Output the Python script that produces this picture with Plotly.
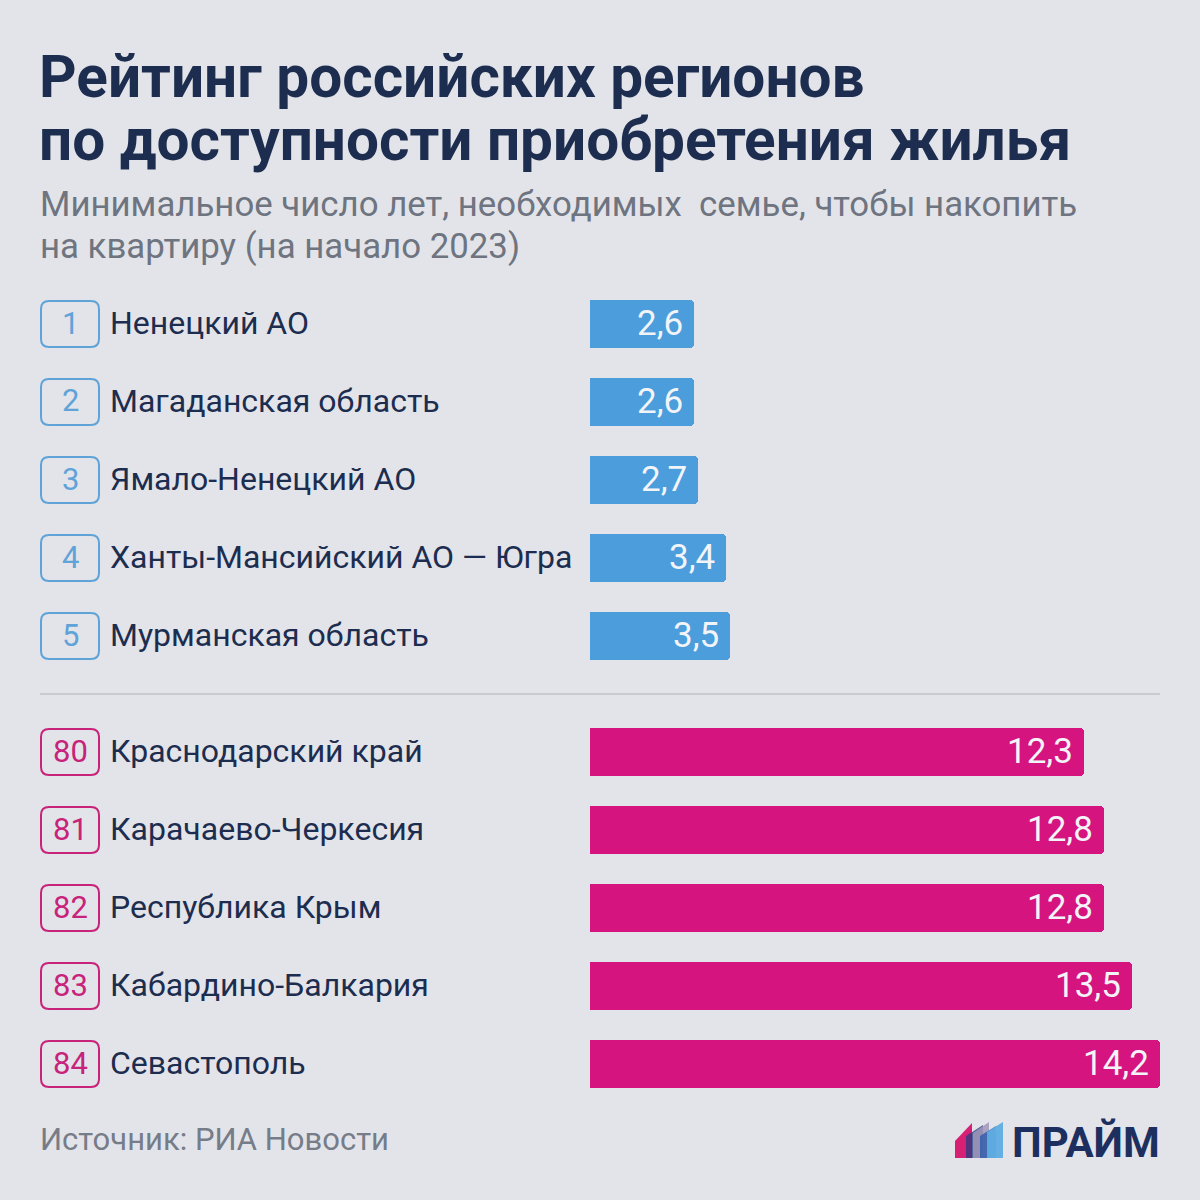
import plotly.graph_objects as go

# ---- data ----
ranks = ["1", "2", "3", "4", "5", "80", "81", "82", "83", "84"]
regions = ["Ненецкий АО", "Магаданская область", "Ямало-Ненецкий АО",
           "Ханты-Мансийский АО — Югра", "Мурманская область",
           "Краснодарский край", "Карачаево-Черкесия", "Республика Крым",
           "Кабардино-Балкария", "Севастополь"]
years = [2.6, 2.6, 2.7, 3.4, 3.5, 12.3, 12.8, 12.8, 13.5, 14.2]
groups = ["top", "top", "top", "top", "top", "bottom", "bottom", "bottom", "bottom", "bottom"]

title_lines = ["Рейтинг российских регионов", "по доступности приобретения жилья"]
subtitle_lines = ["Минимальное число лет, необходимых  семье, чтобы накопить",
                  "на квартиру (на начало 2023)"]
source = "Источник: РИА Новости"
brand = "ПРАЙМ"

# ---- style ----
W = H = 1200
BG = "#e3e4e9"
NAVY = "#1c2d4f"
GREY = "#6e7480"
BLUE = "#4b9ddb"
MAGENTA = "#d5147f"
BOX_BLUE = "#5fa3d8"
BOX_MAG = "#c8237a"
FONT = "Roboto"

ROW0 = 324      # pixel centre of first row
STEP = 78       # pixel step between rows
GAP = 38        # extra pixel gap between groups
BAR_H = 48
BAR_X0, BAR_X1 = 590, 1160

def row_px(i):
    return ROW0 + STEP * i + (GAP if groups[i] == "bottom" else 0)

ypos = [(row_px(i) - ROW0) / STEP for i in range(len(years))]
y_top = -ROW0 / STEP
y_bot = (H - ROW0) / STEP

def X(px):
    return px / W

def Y(py):
    return 1 - py / H

colors = [BLUE if g == "top" else MAGENTA for g in groups]

fig = go.Figure()
fig.add_trace(go.Bar(
    x=years, y=ypos, orientation="h",
    width=BAR_H / STEP,
    marker=dict(color=colors, line=dict(width=0), cornerradius=4),
    hoverinfo="skip",
))

annotations = []
shapes = []

# value labels
for i, v in enumerate(years):
    annotations.append(dict(
        x=v, y=ypos[i], xref="x", yref="y", xanchor="right", yanchor="middle",
        xshift=-9, yshift=1, showarrow=False,
        text=f"{v:.1f}".replace(".", ","),
        font=dict(family=FONT, size=35, color="#f2f4f8"),
    ))

def rrect(x0, y0, x1, y1, r):
    p = lambda x, y: f"{X(x):.5f},{Y(y):.5f}"
    return (f"M {p(x0 + r, y0)} L {p(x1 - r, y0)} Q {p(x1, y0)} {p(x1, y0 + r)} "
            f"L {p(x1, y1 - r)} Q {p(x1, y1)} {p(x1 - r, y1)} "
            f"L {p(x0 + r, y1)} Q {p(x0, y1)} {p(x0, y1 - r)} "
            f"L {p(x0, y0 + r)} Q {p(x0, y0)} {p(x0 + r, y0)} Z")

for i, (rk, name) in enumerate(zip(ranks, regions)):
    cy = row_px(i)
    bc = BOX_BLUE if groups[i] == "top" else BOX_MAG
    shapes.append(dict(type="path", xref="paper", yref="paper",
                       path=rrect(41, cy - 23, 99, cy + 23, 8),
                       line=dict(color=bc, width=2), fillcolor="rgba(0,0,0,0)"))
    annotations.append(dict(
        x=X(70), y=Y(cy), xref="paper", yref="paper", xanchor="center", yanchor="middle",
        yshift=1, showarrow=False, text=rk,
        font=dict(family=FONT, size=31, color=bc),
    ))
    annotations.append(dict(
        x=X(108), y=Y(cy), xref="paper", yref="paper", xanchor="left", yanchor="middle",
        yshift=1, showarrow=False, text=name,
        font=dict(family=FONT, size=32, color=NAVY),
    ))

# separator line
sep = (row_px(4) + row_px(5)) / 2
shapes.append(dict(type="line", xref="paper", yref="paper",
                   x0=X(40), x1=X(1160), y0=Y(sep), y1=Y(sep),
                   line=dict(color="#c9cacf", width=2)))

# title and subtitle
for k, t in enumerate(title_lines):
    annotations.append(dict(
        x=X(37), y=Y(77 + 63 * k), xref="paper", yref="paper", xanchor="left",
        yanchor="middle", showarrow=False, text=f"<b>{t}</b>",
        font=dict(family=FONT, size=58.5, color=NAVY),
    ))
for k, t in enumerate(subtitle_lines):
    annotations.append(dict(
        x=X(38), y=Y(204 + 43 * k), xref="paper", yref="paper", xanchor="left",
        yanchor="middle", showarrow=False, text=t,
        font=dict(family=FONT, size=34.8, color=GREY),
    ))

# source
annotations.append(dict(
    x=X(38), y=Y(1139), xref="paper", yref="paper", xanchor="left", yanchor="middle",
    showarrow=False, text=source, font=dict(family=FONT, size=31, color="#767c88"),
))

# brand logo
stripes = [("rgba(214,20,110,0.95)", 955, 972, 1141, 1123),
           ("rgba(35,60,130,0.75)", 966, 983, 1136, 1125),
           ("rgba(160,150,185,0.85)", 973, 989, 1133, 1122),
           ("rgba(45,90,170,0.8)", 980, 996, 1136, 1126),
           ("rgba(95,172,225,0.95)", 987, 1003, 1132, 1122)]
for col, x0, x1, ytl, ytr in stripes:
    path = (f"M {X(x0):.5f},{Y(1158):.5f} L {X(x1):.5f},{Y(1158):.5f} "
            f"L {X(x1):.5f},{Y(ytr):.5f} L {X(x0):.5f},{Y(ytl):.5f} Z")
    shapes.append(dict(type="path", xref="paper", yref="paper", path=path,
                       line=dict(width=0), fillcolor=col))
annotations.append(dict(
    x=X(1162), y=Y(1142), xref="paper", yref="paper", xanchor="right", yanchor="middle",
    showarrow=False, text=f"<b>{brand}</b>",
    font=dict(family=FONT, size=42, color="#1d2f5e"),
))

fig.update_layout(
    width=W, height=H,
    margin=dict(l=0, r=0, t=0, b=0),
    paper_bgcolor=BG, plot_bgcolor=BG,
    showlegend=False,
    xaxis=dict(domain=[X(BAR_X0), X(BAR_X1)], range=[0, max(years)],
               visible=False, fixedrange=True),
    yaxis=dict(domain=[0, 1], range=[y_bot, y_top], visible=False, fixedrange=True),
    annotations=annotations,
    shapes=shapes,
    bargap=0,
)

fig.write_html("out.html", config={"displayModeBar": False},
               post_script="document.body.style.margin='0';document.body.style.background='%s';" % BG)
